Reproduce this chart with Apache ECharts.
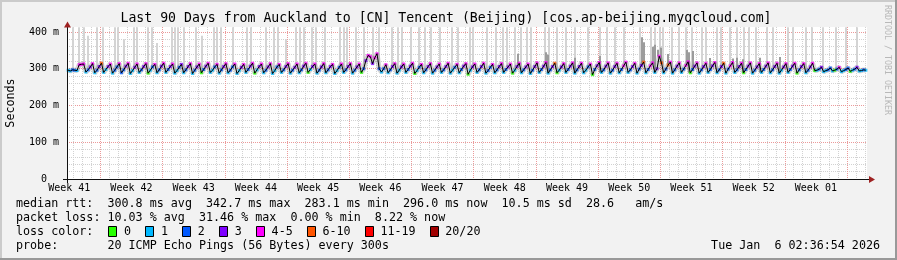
<!DOCTYPE html>
<html><head><meta charset="utf-8">
<script src="https://cdn.jsdelivr.net/npm/echarts@6/dist/echarts.min.js"></script>
<style>html,body{margin:0;padding:0;background:#f2f2f2}#c{width:897px;height:260px}</style>
</head><body><div id="c"></div>
<script>
// ---------------- data ----------------
const titleText = 'Last 90 Days from Auckland to [CN] Tencent (Beijing) [cos.ap-beijing.myqcloud.com]';
const weekLabels = ['Week 41','Week 42','Week 43','Week 44','Week 45','Week 46','Week 47','Week 48','Week 49','Week 50','Week 51','Week 52','Week 01'];
const yTickLabels = {0:'0  ',100:'100 m',200:'200 m',300:'300 m',400:'400 m'};
// median RTT (ms), 4 samples per day
const medianByDay = [
[296,294,297,296],[295,311,312,313],[291,297,305,314],[289,296,306,315],[290,298,306,313],[288,296,305,314],[289,297,307,315],
[287,295,304,313],[290,297,306,314],[288,296,305,312],[289,297,307,315],[290,298,306,313],[288,295,304,312],[289,297,306,314],
[287,296,305,313],[289,298,307,315],[290,296,305,312],[288,297,306,314],[289,296,305,313],[287,295,304,312],[290,298,307,315],
[288,297,306,313],[289,296,305,314],[287,295,305,312],[290,297,306,314],[288,296,304,313],[289,297,307,315],[290,298,306,313],
[288,296,305,314],[289,297,306,312],[287,295,304,313],[290,297,306,314],[288,296,305,313],[290,300,322,336],[333,314,330,341],
[300,291,300,311],[289,297,306,314],[288,296,305,313],[290,298,307,315],[287,295,304,312],[289,297,306,314],[288,296,305,313],
[290,297,306,315],[288,296,304,312],[289,298,307,314],[285,296,305,313],[290,297,306,315],[288,295,304,312],[289,297,306,314],
[290,298,305,313],[288,296,306,315],[289,297,305,313],[287,296,306,316],[290,298,307,317],[288,297,306,315],[289,296,305,314],
[290,298,307,316],[288,297,306,315],[289,296,305,313],[284,298,308,317],[290,297,307,316],[288,296,306,315],[289,298,308,318],
[290,297,306,315],[288,299,309,318],[289,298,308,316],[290,300,334,316],[289,299,310,318],[288,297,307,316],[290,299,309,319],
[289,298,307,316],[288,297,306,315],[290,298,308,317],[289,297,306,315],[288,299,308,317],[290,297,306,315],[289,298,307,316],
[288,296,305,314],[290,298,307,316],[289,297,306,315],[288,296,305,314],[290,298,307,315],[288,297,306,314],[289,296,305,315],
[295,296,299,304],[292,295,297,302],[294,296,299,304],[292,295,298,302],[293,296,299,304],[294,295,297,296]
];
// loss class index per sample (0:'0' 1:'1' 2:'2' 3:'3' 4:'4-5' 5:'6-10' 6:'11-19' 7:'20/20')
const lossByDay = [
[1,1,2,2],[1,4,4,4],[1,2,3,4],[1,2,3,5],[1,1,3,4],[1,2,2,4],[2,2,3,4],
[1,1,3,4],[1,2,3,4],[0,1,2,4],[1,2,3,4],[1,2,3,4],[1,1,2,3],[1,2,3,4],
[1,2,3,4],[0,2,3,4],[1,1,2,4],[1,2,3,4],[1,2,2,4],[1,1,3,4],[1,2,3,4],
[0,1,3,4],[1,2,3,4],[1,1,2,4],[1,2,3,4],[1,2,3,4],[1,2,3,4],[0,1,3,4],
[1,2,3,4],[1,2,3,4],[1,1,2,4],[1,2,3,4],[1,2,3,4],[0,2,3,4],[4,3,4,4],
[2,1,2,4],[1,2,3,4],[1,1,3,4],[1,2,3,4],[0,1,2,4],[1,2,3,4],[1,2,3,4],
[1,2,3,4],[1,1,2,4],[1,2,3,4],[0,1,3,4],[1,2,3,4],[1,2,2,4],[1,2,3,4],
[1,2,3,4],[0,1,3,4],[1,2,3,4],[1,2,3,4],[1,2,3,4],[1,2,3,5],[0,1,3,4],
[1,2,3,4],[1,2,3,4],[1,1,2,4],[0,2,3,4],[1,2,3,4],[1,2,3,4],[1,2,4,4],
[1,2,3,4],[1,2,3,5],[1,2,4,4],[1,3,4,5],[1,2,5,4],[1,2,3,4],[1,2,4,4],
[0,2,3,4],[1,2,3,4],[1,2,3,4],[1,2,3,5],[1,2,4,4],[1,2,3,4],[0,2,3,4],
[1,2,3,4],[1,2,3,4],[1,2,3,4],[1,1,3,4],[1,2,3,4],[0,2,3,4],[1,2,3,4],
[0,1,2,3],[1,1,2,2],[1,0,2,4],[1,1,2,2],[0,1,2,3],[1,1,2,1]
];
// light smoke spikes: [day, top ms]
const lightSpikes = [
[0.68,413],[1.35,413],[1.91,413],[2.36,390],[3.37,413],[4.05,413],[5.40,413],[5.74,413],[6.41,380],[7.54,413],[7.87,413],[9.11,413],[9.56,413],[10.12,370],
[11.81,413],[12.15,413],[12.49,413],[13.16,413],[14.51,413],[15.19,390],[16.54,413],[16.87,413],[17.32,413],[18.67,413],[20.25,413],[20.70,413],[22.39,413],[23.29,413],[23.74,413],[24.64,380],
[25.76,413],[26.21,413],[26.66,413],[27.56,413],[28.01,413],[29.03,413],[30.71,413],[31.16,413],[31.50,413],[32.51,413],[33.41,413],[34.42,413],[35.10,413],[36.56,413],[37.24,413],[37.69,413],[38.70,413],[39.60,413],
[40.27,413],[40.95,413],[41.96,413],[43.31,413],[43.99,413],[45.34,413],[45.67,413],[47.25,413],[48.26,413],[49.05,413],[49.50,413],[50.40,413],[51.07,413],[51.75,413],[52.20,413],[53.77,413],[54.22,413],[55.12,413],
[56.14,413],[57.15,413],[58.61,413],[59.96,413],[60.75,413],[61.65,413],[62.66,413],[64.46,413],[65.70,413],[66.15,413],[66.71,413],[67.05,413],[68.06,413],[68.85,413],[69.64,413],[70.31,413],
[71.44,413],[71.89,413],[73.13,413],[73.57,413],[74.58,413],[75.37,413],[76.16,413],[76.72,413],[77.51,413],[78.75,413],[79.42,413],[81.11,413],[81.67,413],[83.13,413],[83.81,413],[85.05,413],[86.51,413],[87.64,413],[88.87,413]
];
// darker smoke (several slow pings): [day, top ms]
const darkSpikes = [
[50.7,341],[53.9,345],[54.1,338],[57.2,330],[60.0,335],[64.7,386],[64.9,372],[65.9,360],[66.2,365],[66.5,352],[66.8,358],[67.6,340],
[69.7,351],[70.0,345],[70.4,348],[72.3,329],[74.9,328],[75.4,330],[76.0,326],[78.0,330],[80.2,332]
];
const lossLabels = ['0','1','2','3','4-5','6-10','11-19','20/20'];
const lossColors = ['#26ff00','#00b8ff','#0059ff','#7e00ff','#ff00ff','#ff5500','#ff0000','#a10000'];
const statLine1 = 'median rtt:  300.8 ms avg  342.7 ms max  283.1 ms min  296.0 ms now  10.5 ms sd  28.6   am/s';
const statLine2 = 'packet loss: 10.03 % avg  31.46 % max  0.00 % min  8.22 % now';
const lossTitle = 'loss color:';
const probeLine = 'probe:       20 ICMP Echo Pings (56 Bytes) every 300s';
const dateText = 'Tue Jan  6 02:36:54 2026';
const creditText = 'RRDTOOL / TOBI OETIKER';

// ---------------- layout ----------------
const DAYS = 90, PL = 67, PR = 867, PT = 27, PB = 179, YMAX = 413.6;
const PW = PR - PL, PH = PB - PT, PXD = PW / DAYS;
const MONO = '"DejaVu Sans Mono", monospace';
const SPD = 4; // samples per day

const medianData = [], lossData = [];
medianByDay.forEach((row, d) => row.forEach((v, j) => {
  const x = d + (j + 0.5) / SPD;
  medianData.push([x, v]);
  lossData.push({value: [x, v], itemStyle: {color: lossColors[lossByDay[d][j]]}});
}));
function medAt(day) {
  let i = Math.round(day * SPD - 0.5);
  i = Math.max(0, Math.min(medianData.length - 1, i));
  return medianData[i][1];
}
const lightData = lightSpikes.map(s => [s[0], s[1], medAt(s[0])]);
const darkData = darkSpikes.map(s => [s[0], s[1], medAt(s[0])]);

function spikeRenderer(color, w) {
  return function (params, api) {
    const t = api.coord([api.value(0), api.value(1)]);
    const b = api.coord([api.value(0), api.value(2)]);
    return {type: 'rect', shape: {x: Math.round(t[0]) - w / 2, y: t[1], width: w, height: b[1] - t[1]},
            style: {fill: color}};
  };
}

const hiddenAxis = {show: true, axisLine: {show: false}, axisTick: {show: false}, axisLabel: {show: false}, splitLine: {show: false}};
const minorDash = {color: '#d2d2d2', width: 1, type: [1, 1]};
const majorDash = {color: '#eb9a9a', width: 1, type: [1, 1]};

const option = {
  animation: false,
  backgroundColor: '#f2f2f2',
  grid: [
    {left: PL, top: PT, width: PW, height: PH},
    {left: PL + 0.25 * PXD, top: PT, width: PW - 0.25 * PXD, height: PH},
    {left: PL + 0.75 * PXD, top: PT, width: PW - 0.75 * PXD, height: PH},
    {left: PL + 3.75 * PXD, top: PT, width: PW - 3.75 * PXD, height: PH}
  ],
  xAxis: [
    {gridIndex: 0, type: 'value', min: 0, max: DAYS, axisLine: {show: true, lineStyle: {color: '#111', width: 1}},
     axisTick: {show: false}, axisLabel: {show: false}, splitLine: {show: false}},
    {gridIndex: 1, type: 'value', min: 0, max: DAYS - 0.25, interval: 7, axisLine: {show: false}, axisTick: {show: false},
     splitLine: {show: false},
     axisLabel: {show: true, showMinLabel: true, showMaxLabel: false, margin: 4, color: '#000', fontFamily: MONO, fontSize: 10,
       formatter: v => weekLabels[Math.round(v / 7)] || ''}},
    {gridIndex: 2, type: 'value', min: 0, max: DAYS - 0.75, interval: 1, axisLine: {show: false}, axisTick: {show: false},
     axisLabel: {show: false}, splitLine: {show: true, showMinLine: true, showMaxLine: false, lineStyle: minorDash}},
    {gridIndex: 3, type: 'value', min: 0, max: DAYS - 3.75, interval: 7, axisLine: {show: false}, axisTick: {show: false},
     axisLabel: {show: false}, splitLine: {show: true, showMinLine: true, showMaxLine: false, lineStyle: majorDash}}
  ],
  yAxis: [
    {gridIndex: 0, type: 'value', position: 'left', min: 0, max: YMAX, interval: 20, axisLine: {show: false}, axisTick: {show: false},
     axisLabel: {show: false}, splitLine: {show: true, showMinLine: false, showMaxLine: false, lineStyle: minorDash}},
    {gridIndex: 0, type: 'value', position: 'left', offset: 0, min: 0, max: YMAX, interval: 100,
     axisLine: {show: true, lineStyle: {color: '#111', width: 1}},
     axisTick: {show: false},
     axisLabel: {show: true, showMinLabel: true, showMaxLabel: false, margin: 8, color: '#000', fontFamily: MONO, fontSize: 10,
       formatter: v => yTickLabels[Math.round(v)] || ''},
     splitLine: {show: true, showMinLine: false, showMaxLine: false, lineStyle: majorDash}},
    Object.assign({gridIndex: 1, type: 'value', min: 0, max: YMAX}, hiddenAxis),
    Object.assign({gridIndex: 2, type: 'value', min: 0, max: YMAX}, hiddenAxis),
    Object.assign({gridIndex: 3, type: 'value', min: 0, max: YMAX}, hiddenAxis)
  ],
  series: [
    {type: 'custom', name: 'smoke-light', xAxisIndex: 0, yAxisIndex: 0, z: 2, clip: true,
     renderItem: spikeRenderer('#d4d4d4', 2), encode: {x: 0, y: 1}, data: lightData},
    {type: 'custom', name: 'smoke-dark', xAxisIndex: 0, yAxisIndex: 0, z: 3, clip: true,
     renderItem: spikeRenderer('#9c9c9c', 2), encode: {x: 0, y: 1}, data: darkData},
    {type: 'line', name: 'smoke-band', xAxisIndex: 0, yAxisIndex: 0, z: 4, data: medianData, showSymbol: false,
     lineStyle: {color: 'rgba(90,90,90,0.25)', width: 5}},
    {type: 'scatter', name: 'loss', xAxisIndex: 0, yAxisIndex: 0, z: 5, data: lossData, symbol: 'rect', symbolSize: [3, 3]},
    {type: 'line', name: 'median', xAxisIndex: 0, yAxisIndex: 0, z: 6, data: medianData, showSymbol: false,
     lineStyle: {color: '#000', width: 1}}
  ],
  graphic: []
};

const G = option.graphic;
// plot background
G.push({type: 'rect', z: -5, shape: {x: PL, y: PT, width: PW, height: PH}, style: {fill: '#fff'}, silent: true});
// 3D border
G.push({type: 'rect', z: 20, shape: {x: 0, y: 0, width: 897, height: 2}, style: {fill: '#cbcbcb'}});
G.push({type: 'rect', z: 20, shape: {x: 0, y: 0, width: 2, height: 260}, style: {fill: '#cbcbcb'}});
G.push({type: 'rect', z: 20, shape: {x: 0, y: 258, width: 897, height: 2}, style: {fill: '#999'}});
G.push({type: 'rect', z: 20, shape: {x: 895, y: 0, width: 2, height: 260}, style: {fill: '#999'}});
// axis stubs and arrows
G.push({type: 'line', z: 20, shape: {x1: 63, y1: PB + 0.5, x2: 871, y2: PB + 0.5}, style: {stroke: '#111', lineWidth: 1}});
G.push({type: 'line', z: 20, shape: {x1: PL + 0.5, y1: PB + 4, x2: PL + 0.5, y2: 25}, style: {stroke: '#111', lineWidth: 1}});
G.push({type: 'polygon', z: 21, shape: {points: [[PL + 0.5, 21.5], [PL - 3, 27.5], [PL + 4, 27.5]]}, style: {fill: '#9e2222'}});
G.push({type: 'polygon', z: 21, shape: {points: [[875, PB + 0.5], [869, PB - 3], [869, PB + 4]]}, style: {fill: '#9e2222'}});
// texts
function txt(text, x, y, size, opts) {
  const o = Object.assign({align: 'left', color: '#000', rot: 0}, opts || {});
  G.push({type: 'text', z: 20, x: x, y: y, rotation: o.rot,
    style: {text: text, fill: o.color, font: size + 'px ' + MONO, textAlign: o.align, align: o.align,
            textVerticalAlign: 'middle', verticalAlign: 'middle'}});
}
txt(titleText, 446, 19, 13.2, {align: 'center'});
txt('Seconds', 11, 103, 11.7, {align: 'center', rot: Math.PI / 2});
txt(creditText, 887, 60, 8.3, {align: 'center', rot: -Math.PI / 2, color: '#b8b8b8'});
txt(statLine1, 16, 204, 11.7);
txt(statLine2, 16, 218, 11.7);
txt(lossTitle, 16, 232, 11.7);
txt(probeLine, 16, 246, 11.7);
txt(dateText, 880, 246, 11.7, {align: 'right'});
// loss colour legend
let px = 108.3;
lossLabels.forEach((lab, i) => {
  G.push({type: 'rect', z: 20, shape: {x: Math.round(px) + 0.5, y: 226.5, width: 8, height: 10},
          style: {fill: lossColors[i], stroke: '#000', lineWidth: 1}});
  txt(lab, px + 15.7, 232, 11.7);
  px += 15.7 + lab.length * 7.0 + 14.2;
});

const chart = echarts.init(document.getElementById('c'), null, {renderer: 'canvas'});
chart.setOption(option);
</script>
</body></html>
